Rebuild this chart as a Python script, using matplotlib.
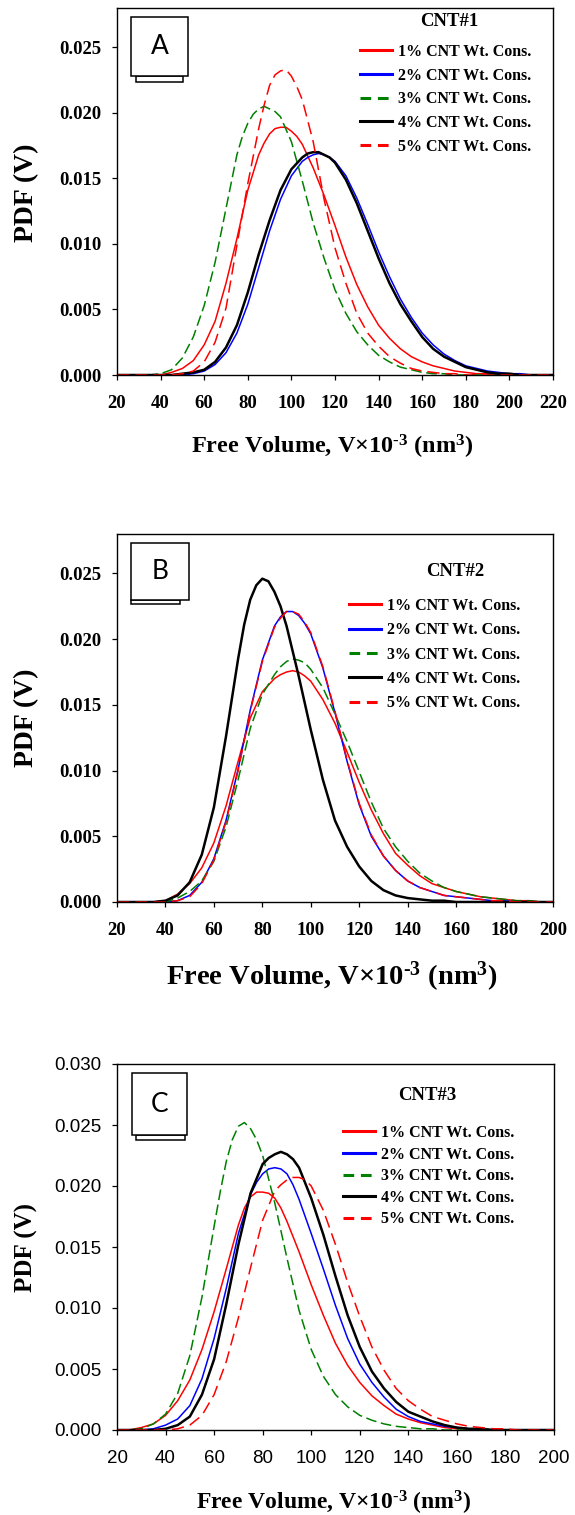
import matplotlib
matplotlib.use("Agg")
import matplotlib.pyplot as plt
from matplotlib.lines import Line2D
from matplotlib.patches import Rectangle


# ---- data (PDF vs free volume) ----
labels = ["1% CNT Wt. Cons.", "2% CNT Wt. Cons.", "3% CNT Wt. Cons.",
          "4% CNT Wt. Cons.", "5% CNT Wt. Cons."]

# panel A, CNT#1  (values every 5 units)
a_x = [20, 25, 30, 35, 40, 45, 50, 55, 60, 65, 70, 75, 80, 85, 90, 95, 100, 105, 110, 115, 120,
       125, 130, 135, 140, 145, 150, 155, 160, 165, 170, 175, 180, 185, 190, 195, 200, 205, 210, 215, 220]
a_1pct = [0, 0, 0, 0, 0, 0.0002, 0.0005, 0.0011, 0.0023, 0.0041, 0.0070, 0.0104, 0.0141, 0.0168, 0.0184,
          0.0189, 0.0186, 0.0176, 0.0158, 0.0137, 0.0114, 0.0090, 0.0069, 0.0052, 0.0038, 0.0028, 0.0020,
          0.0014, 0.0010, 0.0007, 0.0005, 0.0003, 0.0002, 0.0001, 0.0001, 0, 0, 0, 0, 0, 0]
a_2pct = [0, 0, 0, 0, 0, 0, 0, 0.0001, 0.0003, 0.0008, 0.0017, 0.0032, 0.0054, 0.0082, 0.0110, 0.0134,
          0.0152, 0.0163, 0.0168, 0.0168, 0.0163, 0.0152, 0.0135, 0.0115, 0.0094, 0.0075, 0.0058, 0.0044,
          0.0032, 0.0023, 0.0016, 0.0011, 0.0007, 0.0005, 0.0003, 0.0002, 0.0001, 0.0001, 0, 0, 0]
a_3pct = [0, 0, 0, 0, 0.0001, 0.0004, 0.0013, 0.0029, 0.0053, 0.0086, 0.0127, 0.0168, 0.0192, 0.0203,
          0.0203, 0.0197, 0.0178, 0.0148, 0.0116, 0.0089, 0.0065, 0.0047, 0.0033, 0.0023, 0.0015, 0.0010,
          0.0006, 0.0004, 0.0002, 0.0001, 0.0001, 0, 0, 0, 0, 0, 0, 0, 0, 0, 0]
a_4pct = [0, 0, 0, 0, 0, 0, 0.0001, 0.0002, 0.0004, 0.0010, 0.0021, 0.0038, 0.0063, 0.0092, 0.0118,
          0.0141, 0.0157, 0.0166, 0.0170, 0.0168, 0.0162, 0.0149, 0.0131, 0.0110, 0.0089, 0.0070, 0.0054,
          0.0041, 0.0029, 0.0020, 0.0014, 0.0010, 0.0006, 0.0004, 0.0002, 0.0001, 0.0001, 0, 0, 0, 0]
a_5pct = [0, 0, 0, 0, 0, 0, 0.0001, 0.0003, 0.0010, 0.0025, 0.0051, 0.0099, 0.0146, 0.0188, 0.0221,
          0.0232, 0.0228, 0.0210, 0.0178, 0.0134, 0.0097, 0.0070, 0.0047, 0.0032, 0.0022, 0.0014, 0.0009,
          0.0005, 0.0003, 0.0002, 0.0001, 0.0001, 0, 0, 0, 0, 0, 0, 0, 0, 0]
# extra readings around each peak
a_peak_x = [[87.5, 92.5, 97.5, 102.5], [107.5, 112.5, 117.5], [77.5, 82.5, 87.5, 92.5],
            [107.5, 112.5, 117.5], [87.5, 92.5, 97.5, 102.5]]
a_peak_y = [[0.0177, 0.0188, 0.0189, 0.0182], [0.0166, 0.0169, 0.0166], [0.0182, 0.0199, 0.0205, 0.0201],
            [0.0169, 0.0170, 0.0166], [0.0206, 0.0229, 0.0233, 0.0220]]

# panel B, CNT#2
b_x = [20, 25, 30, 35, 40, 45, 50, 55, 60, 65, 70, 75, 80, 85, 90, 95, 100, 105, 110, 115, 120,
       125, 130, 135, 140, 145, 150, 155, 160, 165, 170, 175, 180, 185, 190, 195, 200]
b_1pct = [0, 0, 0, 0, 0.0001, 0.0006, 0.0014, 0.0026, 0.0045, 0.0073, 0.0107, 0.0140, 0.0160, 0.0170,
          0.0175, 0.0175, 0.0168, 0.0154, 0.0136, 0.0114, 0.0091, 0.0070, 0.0052, 0.0037, 0.0028, 0.0020,
          0.0014, 0.0011, 0.0008, 0.0006, 0.0004, 0.0003, 0.0002, 0.0001, 0.0001, 0, 0]
b_2pct = [0, 0, 0, 0, 0, 0.0001, 0.0005, 0.0015, 0.0033, 0.0062, 0.0101, 0.0146, 0.0184, 0.0210, 0.0221,
          0.0218, 0.0204, 0.0178, 0.0144, 0.0107, 0.0074, 0.0050, 0.0035, 0.0024, 0.0016, 0.0011, 0.0008,
          0.0005, 0.0004, 0.0003, 0.0002, 0.0001, 0.0001, 0, 0, 0, 0]
b_3pct = [0, 0, 0, 0, 0, 0.0003, 0.0008, 0.0016, 0.0031, 0.0057, 0.0093, 0.0132, 0.0158, 0.0173, 0.0183,
          0.0184, 0.0177, 0.0163, 0.0143, 0.0122, 0.0099, 0.0076, 0.0056, 0.0042, 0.0031, 0.0022, 0.0016,
          0.0011, 0.0008, 0.0006, 0.0004, 0.0003, 0.0002, 0.0001, 0.0001, 0, 0]
b_4pct = [0, 0, 0, 0, 0.0001, 0.0005, 0.0015, 0.0036, 0.0072, 0.0126, 0.0185, 0.0230, 0.0246, 0.0236,
          0.0210, 0.0172, 0.0131, 0.0093, 0.0062, 0.0042, 0.0027, 0.0016, 0.0009, 0.0005, 0.0003, 0.0002,
          0.0001, 0.0001, 0, 0, 0, 0, 0, 0, 0, 0, 0]
b_5pct = [0, 0, 0, 0, 0, 0.0001, 0.0004, 0.0014, 0.0032, 0.0061, 0.0100, 0.0145, 0.0183, 0.0209, 0.0221,
          0.0219, 0.0205, 0.0179, 0.0145, 0.0108, 0.0075, 0.0051, 0.0035, 0.0024, 0.0016, 0.0011, 0.0008,
          0.0005, 0.0004, 0.0003, 0.0002, 0.0001, 0.0001, 0, 0, 0, 0]
b_peak_x = [[87.5, 92.5, 97.5], [87.5, 92.5, 97.5], [87.5, 92.5, 97.5],
            [72.5, 77.5, 82.5, 87.5], [87.5, 92.5, 97.5]]
b_peak_y = [[0.0173, 0.0176, 0.0172], [0.0217, 0.0221, 0.0212], [0.0179, 0.0185, 0.0182],
            [0.0211, 0.0241, 0.0244, 0.0225], [0.0216, 0.0221, 0.0213]]

# panel C, CNT#3
c_x = b_x
c_1pct = [0, 0, 0.0002, 0.0005, 0.0012, 0.0024, 0.0041, 0.0066, 0.0097, 0.0132, 0.0168, 0.0191, 0.0195,
          0.0190, 0.0171, 0.0146, 0.0119, 0.0094, 0.0071, 0.0053, 0.0039, 0.0028, 0.0020, 0.0013, 0.0009,
          0.0006, 0.0004, 0.0002, 0.0001, 0.0001, 0, 0, 0, 0, 0, 0, 0]
c_2pct = [0, 0, 0, 0.0001, 0.0004, 0.0009, 0.0020, 0.0042, 0.0075, 0.0116, 0.0161, 0.0193, 0.0210, 0.0215,
          0.0210, 0.0189, 0.0161, 0.0132, 0.0102, 0.0075, 0.0054, 0.0039, 0.0027, 0.0017, 0.0011, 0.0007,
          0.0005, 0.0003, 0.0002, 0.0001, 0.0001, 0, 0, 0, 0, 0, 0]
c_3pct = [0, 0, 0.0001, 0.0005, 0.0013, 0.0030, 0.0061, 0.0109, 0.0167, 0.0220, 0.0249, 0.0247, 0.0225,
          0.0186, 0.0141, 0.0098, 0.0066, 0.0044, 0.0029, 0.0019, 0.0012, 0.0008, 0.0005, 0.0003, 0.0002,
          0.0001, 0.0001, 0, 0, 0, 0, 0, 0, 0, 0, 0, 0]
c_4pct = [0, 0, 0, 0, 0.0001, 0.0004, 0.0011, 0.0029, 0.0058, 0.0103, 0.0152, 0.0194, 0.0218, 0.0226,
          0.0226, 0.0215, 0.0190, 0.0160, 0.0126, 0.0094, 0.0068, 0.0048, 0.0034, 0.0023, 0.0015, 0.0011,
          0.0007, 0.0004, 0.0002, 0.0001, 0.0001, 0, 0, 0, 0, 0, 0]
c_5pct = [0, 0, 0, 0, 0, 0.0001, 0.0004, 0.0012, 0.0029, 0.0056, 0.0092, 0.0133, 0.0172, 0.0196, 0.0205,
          0.0207, 0.0200, 0.0180, 0.0152, 0.0121, 0.0093, 0.0068, 0.0049, 0.0034, 0.0024, 0.0017, 0.0011,
          0.0008, 0.0005, 0.0003, 0.0002, 0.0001, 0.0001, 0, 0, 0, 0]
c_peak_x = [[72.5, 77.5, 82.5, 87.5], [77.5, 82.5, 87.5, 92.5], [62.5, 67.5, 72.5, 77.5],
            [82.5, 87.5, 92.5], [87.5, 92.5, 97.5]]
c_peak_y = [[0.0182, 0.0195, 0.0194, 0.0182], [0.0203, 0.0214, 0.0214, 0.0201],
            [0.0195, 0.0238, 0.0252, 0.0238], [0.0223, 0.0228, 0.0222], [0.0201, 0.0207, 0.0205]]


W, H = 575, 1515
SERIF = "Liberation Serif"

plt.rcParams['mathtext.fontset'] = 'custom'
plt.rcParams['mathtext.default'] = 'regular'

# colour, width, dash pattern (None = solid)
styles = [("#ff0000", 1.1, None),
          ("#0000ff", 1.1, None),
          ("#008000", 1.1, (7, 3)),
          ("#000000", 1.8, None),
          ("#ff0000", 1.1, (8, 4))]
leg_dash = [None, None, (3.5, 2.2), None, (3.5, 2.2)]


def fx(px):
    return px / W


def fy(py):
    return 1 - py / H


def tab_box(l, t, r, b, l2, r2, b2, letter):
    # little "card" with a tab underneath, as in the original
    fig.add_artist(Rectangle((fx(l2), fy(b2)), fx(r2) - fx(l2), fy(b) - fy(b2),
                             transform=fig.transFigure, facecolor="white",
                             edgecolor="black", lw=1.1))
    fig.add_artist(Rectangle((fx(l), fy(b)), fx(r) - fx(l), fy(t) - fy(b),
                             transform=fig.transFigure, facecolor="white",
                             edgecolor="black", lw=1.1))
    fig.text(fx((l + r) / 2), fy((t + b) / 2), letter, ha="center", va="center",
             fontsize=19, family="Lato")


fig = plt.figure(figsize=(W / 100, H / 100), dpi=100)

panels = [
    dict(x=a_x, ys=[a_1pct, a_2pct, a_3pct, a_4pct, a_5pct], px=a_peak_x, py=a_peak_y,
         box=(117, 8, 553, 375), xmax=220, ymax=0.028,
         yticks=[0, 0.005, 0.010, 0.015, 0.020, 0.025],
         tickfont=(SERIF, "bold"), xlabel=(332, 447, 17.5), ylabel=(27, 193, 20),
         title=("CNT#1", 449, 22), leg=(360, 44, 0.48),
         card=(131, 17, 188, 76, 136, 183, 82, "A")),
    dict(x=b_x, ys=[b_1pct, b_2pct, b_3pct, b_4pct, b_5pct], px=b_peak_x, py=b_peak_y,
         box=(117, 534, 553, 902), xmax=200, ymax=0.028,
         yticks=[0, 0.005, 0.010, 0.015, 0.020, 0.025],
         tickfont=(SERIF, "bold"), xlabel=(332, 977, 20.5), ylabel=(27, 718, 20),
         title=("CNT#2", 455, 571), leg=(349, 598, 0.52),
         card=(131, 543, 189, 600, 131, 180, 604, "B")),
    dict(x=c_x, ys=[c_1pct, c_2pct, c_3pct, c_4pct, c_5pct], px=c_peak_x, py=c_peak_y,
         box=(117, 1064, 554, 1430), xmax=200, ymax=0.030,
         yticks=[0, 0.005, 0.010, 0.015, 0.020, 0.025, 0.030],
         tickfont=("Liberation Sans", "normal"), xlabel=(334, 1503, 17), ylabel=(26, 1248, 18),
         title=("CNT#3", 427, 1095), leg=(343, 1125, 0.35),
         card=(132, 1073, 187, 1135, 136, 185, 1140, "C")),
]

for p in panels:
    l, t, r, b = p["box"]
    ax = fig.add_axes([fx(l), fy(b), fx(r) - fx(l), fy(t) - fy(b)])

    for y, ex, ey, (col, lw, dash) in zip(p["ys"], p["px"], p["py"], styles):
        pts = sorted(list(zip(p["x"], y)) + list(zip(ex, ey)))
        line, = ax.plot([q[0] for q in pts], [q[1] for q in pts], color=col, lw=lw,
                        solid_joinstyle="round")
        if dash:
            line.set_dashes(dash)

    ax.set_xlim(20, p["xmax"])
    ax.set_ylim(0, p["ymax"])
    ax.set_xticks(range(20, p["xmax"] + 1, 20))
    ax.set_yticks(p["yticks"])
    ax.set_yticklabels(["%.3f" % v for v in p["yticks"]])
    for s in ax.spines.values():
        s.set_linewidth(1.0)
    ax.tick_params(axis="both", direction="out", length=3.6, width=0.9, labelsize=13.5)
    ax.tick_params(axis="x", pad=10.5)
    ax.tick_params(axis="y", pad=7.5)
    fam, wt = p["tickfont"]
    for lab in ax.get_xticklabels() + ax.get_yticklabels():
        lab.set_family(fam)
        lab.set_weight(wt)

    xl, yl, xs = p["xlabel"]
    fig.text(fx(xl), fy(yl), "Free Volume, V×10$^{\u20103}$ (nm$^{3}$)", ha="center", va="center",
             fontsize=xs, family=SERIF, weight="bold")
    xl, yl, ys = p["ylabel"]
    fig.text(fx(xl), fy(yl), "PDF (V)", rotation=90, ha="center", va="center",
             fontsize=ys, family=SERIF, weight="bold")
    name, tx, ty = p["title"]
    fig.text(fx(tx), fy(ty), name, ha="center", va="center", fontsize=13.5,
             family=SERIF, weight="bold")

    handles = []
    for (col, lw, dash), ld in zip(styles, leg_dash):
        h = Line2D([], [], color=col, lw=2.2)
        if ld:
            h.set_dashes(ld)
        handles.append(h)
    lx, ly, ls = p["leg"]
    ax.legend(handles, labels, loc="upper left", bbox_to_anchor=(fx(lx), fy(ly)),
              bbox_transform=fig.transFigure, frameon=False, borderpad=0, borderaxespad=0,
              handlelength=2.0, handletextpad=0.4, labelspacing=ls,
              prop={"family": SERIF, "weight": "bold", "size": 11.5})

    tab_box(*p["card"])

fig.savefig("out.png", dpi=100)
